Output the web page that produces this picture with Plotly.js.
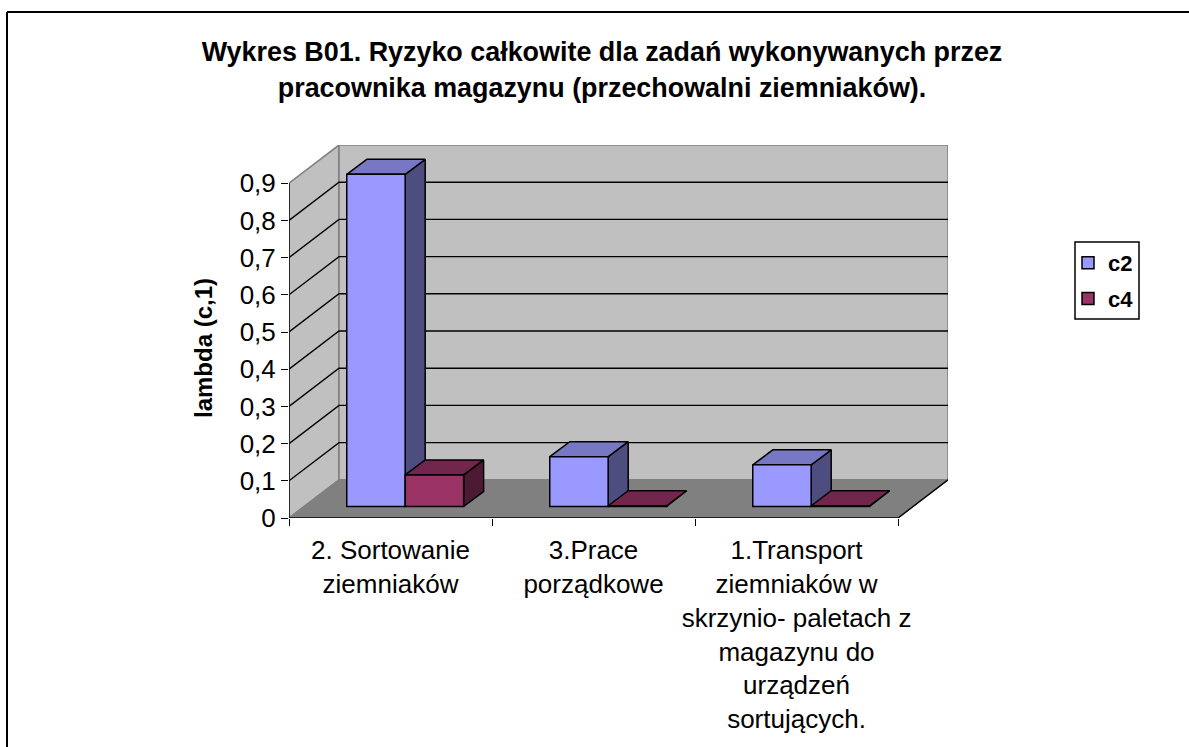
<!DOCTYPE html>
<html>
<head>
<meta charset="utf-8">
<script src="https://cdn.plot.ly/plotly-3.0.1.min.js"></script>
<style>html,body{margin:0;padding:0;background:#fff}#chart{width:1189px;height:747px}</style>
</head>
<body>
<div id="chart"></div>
<script>
const categories = ["2. Sortowanie<br>ziemniaków", "3.Prace<br>porządkowe", "1.Transport<br>ziemniaków w<br>skrzynio- paletach z<br>magazynu do<br>urządzeń<br>sortujących."];
const c2Values = [0.893, 0.134, 0.112];
const c4Values = [0.085, 0.002, 0.002];
const yTicks = [0, 0.1, 0.2, 0.3, 0.4, 0.5, 0.6, 0.7, 0.8, 0.9];
const yTickText = ["0", "0,1", "0,2", "0,3", "0,4", "0,5", "0,6", "0,7", "0,8", "0,9"];
const gridValues = [0.1, 0.2, 0.3, 0.4, 0.5, 0.6, 0.7, 0.8];
const titleLines = ["Wykres B01. Ryzyko całkowite dla zadań wykonywanych przez", "pracownika magazynu (przechowalni ziemniaków)."];

const W = 1189, H = 747, L = 289, R = 948, T = 145, B = 518;
const depthX = 50 / 203, depthY = 0.1027, nCat = 3, topV = 0.9;
const xMax = nCat + depthX, yMax = topV + depthY;
const offX = 14.7 / 203, offY = 11.5 / 372;
const barW = 58.4 / 203, barDX = 20 / 203, barDY = 15 / 372;
const FONT = '"Liberation Sans", Arial, sans-serif';
const c2 = {front: '#9999ff', top: '#7777c4', side: '#4d4d80'};
const c4 = {front: '#993366', top: '#73264d', side: '#4d1a33'};

function poly(xs, ys, fill, lineColor, w) {
  return {type: 'scatter', mode: 'lines', x: xs, y: ys, fill: 'toself', fillcolor: fill,
    line: {color: lineColor, width: w}, showlegend: false, hoverinfo: 'skip', xaxis: 'x', yaxis: 'y'};
}
function path(xs, ys, color, w) {
  return {type: 'scatter', mode: 'lines', x: xs, y: ys, line: {color: color, width: w},
    showlegend: false, hoverinfo: 'skip', xaxis: 'x', yaxis: 'y'};
}
const traces = [];
traces.push(poly([0, depthX, depthX, 0, 0], [0, depthY, yMax, topV, 0], '#c0c0c0', '#808080', 1.6));
traces.push(poly([depthX, xMax, xMax, depthX, depthX], [depthY, depthY, yMax, yMax, depthY], '#c0c0c0', '#808080', 1.6));
traces.push(poly([0, nCat, xMax, depthX, 0], [0, 0, depthY, depthY, 0], '#808080', '#808080', 1.2));
gridValues.forEach(v => traces.push(path([0, depthX, xMax], [v, v + depthY, v + depthY], '#000000', 1.4)));
traces.push(path([0, 0], [0, topV], '#000000', 1.4));
traces.push(path([0, nCat, xMax], [0, 0, depthY], '#000000', 1.4));

function block(vals, col, shift) {
  vals.forEach((v, i) => {
    const x0 = i + 0.5 + offX + shift * barW, x1 = x0 + barW;
    const y0 = offY, y1 = offY + v;
    traces.push(poly([x1, x1 + barDX, x1 + barDX, x1, x1], [y0, y0 + barDY, y1 + barDY, y1, y0], col.side, '#000000', 1.5));
    traces.push(poly([x0, x1, x1 + barDX, x0 + barDX, x0], [y1, y1, y1 + barDY, y1 + barDY, y1], col.top, '#000000', 1.5));
  });
}
block(c2Values, c2, -1);
block(c4Values, c4, 0);

const centers = categories.map((_, i) => i + 0.5);
const barX = centers.map(c => c + offX);
[["c2", c2Values, c2], ["c4", c4Values, c4]].forEach(([name, vals, col]) => {
  traces.push({type: 'bar', name: name, x: barX, y: vals, base: vals.map(() => offY), width: barW,
    offsetgroup: name, legendgroup: name,
    marker: {color: col.front, line: {color: '#000000', width: 1.5}}, xaxis: 'x2', yaxis: 'y2'});
});
traces.push({type: 'scatter', mode: 'lines', x: [null], y: [null], showlegend: false, hoverinfo: 'skip', xaxis: 'x', yaxis: 'y3'});

const px = p => (p - L) / (R - L), py = p => (B - p) / (B - T);
const layout = {
  width: W, height: H, paper_bgcolor: '#ffffff', plot_bgcolor: 'rgba(0,0,0,0)',
  margin: {l: L, r: W - R, t: T, b: H - B, pad: 0},
  barmode: 'group', bargap: 86 / 203,
  font: {family: FONT, color: '#000000'},
  title: {text: titleLines.map(t => '<span style="font-size:26.9px">' + t + '</span>').join('<br>'),
    font: {family: FONT, size: 27.7, color: '#000000', weight: 700},
    x: 602 / W, xanchor: 'center', xref: 'container', y: 1 - 61 / H, yanchor: 'top', yref: 'container'},
  xaxis: {domain: [0, 1], range: [0, xMax], tickmode: 'array', tickvals: [0, 1, 2, 3], ticktext: ['', '', '', ''],
    ticks: 'outside', ticklen: 7, tickwidth: 1.4, tickcolor: '#000000', showgrid: false, zeroline: false, showline: false, fixedrange: true},
  xaxis2: {overlaying: 'x', anchor: 'y2', range: [0, xMax], tickmode: 'array', tickvals: centers, ticktext: categories,
    tickangle: 0, ticks: 'outside', ticklen: 9, tickcolor: 'rgba(0,0,0,0)', tickfont: {family: FONT, size: 26, color: '#000000'}, showgrid: false, zeroline: false, showline: false, fixedrange: true},
  yaxis: {domain: [0, 1], range: [0, yMax], tickmode: 'array', tickvals: yTicks, ticktext: yTickText,
    ticks: 'outside', ticklen: 7, tickwidth: 1.4, tickcolor: '#000000', tickfont: {family: FONT, size: 26, color: '#000000'},
    showgrid: false, zeroline: false, showline: false, fixedrange: true},
  yaxis2: {overlaying: 'y', anchor: 'x2', range: [0, yMax], tickmode: 'array', tickvals: [], showticklabels: false, showgrid: false, zeroline: false, showline: false, fixedrange: true},
  yaxis3: {domain: [0, 0.9115], anchor: 'x', range: [0, yMax], tickmode: 'array', tickvals: [], showticklabels: false, showgrid: false, zeroline: false, showline: false, fixedrange: true,
    title: {text: 'lambda (c,1)', font: {family: FONT, size: 24, color: '#000000', weight: 700}, standoff: 68}},
  legend: {x: px(1068), xanchor: 'left', y: py(242), yanchor: 'top', bgcolor: 'rgba(0,0,0,0)', borderwidth: 0,
    font: {family: FONT, size: 22, color: '#000000', weight: 700}, tracegroupgap: 4, traceorder: 'grouped', itemwidth: 30},
  shapes: [
    {type: 'line', xref: 'paper', yref: 'paper', x0: px(7), x1: px(W), y0: py(12), y1: py(12), line: {color: '#000000', width: 2}},
    {type: 'line', xref: 'paper', yref: 'paper', x0: px(7), x1: px(7), y0: py(12), y1: py(H), line: {color: '#000000', width: 2}},
    {type: 'rect', xref: 'paper', yref: 'paper', x0: px(1075), x1: px(1139), y0: py(242), y1: py(319), line: {color: '#000000', width: 1.5}, layer: 'below'}
  ]
};
Plotly.newPlot('chart', traces, layout, {displayModeBar: false, responsive: false});
</script>
</body>
</html>
